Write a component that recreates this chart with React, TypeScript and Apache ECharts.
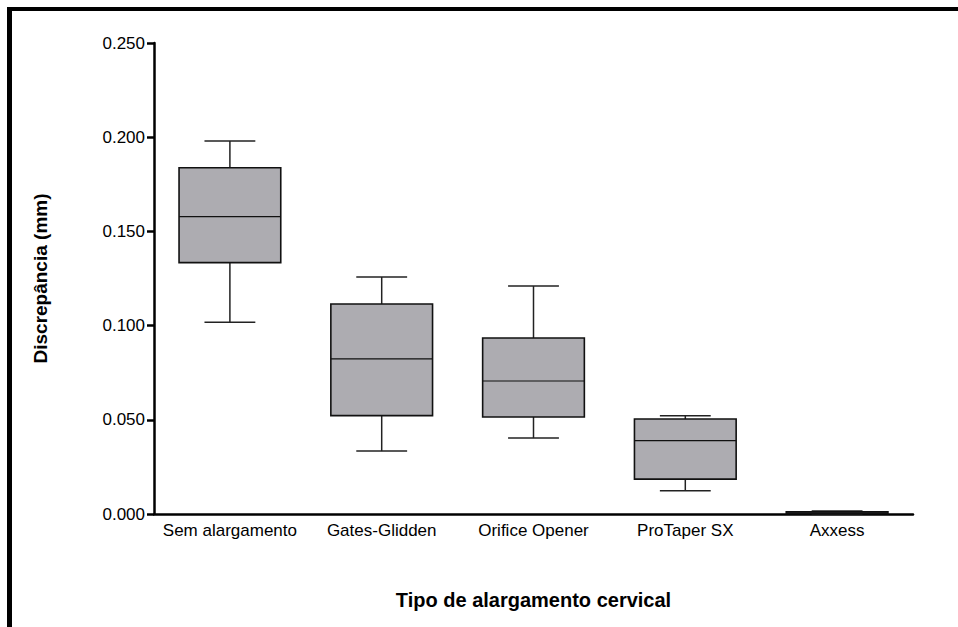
import React, { useEffect, useRef } from "react";
import * as echarts from "echarts";

const categories = ["Sem alargamento", "Gates-Glidden", "Orifice Opener", "ProTaper SX", "Axxess"];
// [min, Q1, median, Q3, max]
const boxMin = [0.1018, 0.0334, 0.0403, 0.0124, 0.0];
const boxQ1 = [0.1334, 0.0522, 0.0515, 0.0185, 0.0002];
const boxMedian = [0.1578, 0.0823, 0.0706, 0.0389, 0.001];
const boxQ3 = [0.1838, 0.1115, 0.0934, 0.0504, 0.0012];
const boxMax = [0.198, 0.1258, 0.121, 0.0522, 0.0016];
const yTicks = [0, 0.05, 0.1, 0.15, 0.2, 0.25];

export default function App() {
  const ref = useRef<HTMLDivElement>(null);
  useEffect(() => {
    document.body.style.margin = "0";
    const chart = echarts.init(ref.current!, null, { renderer: "svg" });
    const data = categories.map((_, i) => [i, boxMin[i], boxQ1[i], boxMedian[i], boxQ3[i], boxMax[i]]);
    chart.setOption({
      animation: false,
      backgroundColor: "#ffffff",
      textStyle: { fontFamily: "Liberation Sans, Arial, sans-serif" },
      grid: { left: 154, right: 45, top: 43, bottom: 113 },
      xAxis: {
        type: "category",
        data: categories,
        boundaryGap: true,
        axisLine: { lineStyle: { color: "#000", width: 2.5 } },
        axisTick: { show: false },
        axisLabel: { color: "#000", fontSize: 17, margin: 8, interval: 0, fontFamily: "Liberation Sans" },
        name: "Tipo de alargamento cervical",
        nameLocation: "middle",
        nameGap: 76,
        nameTextStyle: { color: "#000", fontSize: 20, fontWeight: "bold", fontFamily: "Liberation Sans" },
        splitLine: { show: false },
      },
      yAxis: {
        type: "value",
        min: yTicks[0],
        max: yTicks[yTicks.length - 1],
        interval: 0.05,
        axisLine: { show: true, lineStyle: { color: "#000", width: 2.5 } },
        axisTick: { show: true, inside: false, length: 7, lineStyle: { color: "#000", width: 2.5 } },
        axisLabel: {
          color: "#000",
          fontSize: 17,
          margin: 9,
          fontFamily: "Liberation Sans",
          formatter: (v: number) => v.toFixed(3),
        },
        splitLine: { show: false },
        name: "Discrepância (mm)",
        nameLocation: "middle",
        nameGap: 104,
        nameRotate: 90,
        nameTextStyle: { color: "#000", fontSize: 19, fontWeight: "bold", fontFamily: "Liberation Sans" },
      },
      series: [
        {
          type: "custom",
          data,
          renderItem: (params: any, api: any) => {
            const i = api.value(0);
            const band = api.size([1, 0])[0];
            const bw = band * 0.67;
            const cw = band * 0.335;
            const pMin = api.coord([i, api.value(1)]);
            const pQ1 = api.coord([i, api.value(2)]);
            const pMed = api.coord([i, api.value(3)]);
            const pQ3 = api.coord([i, api.value(4)]);
            const pMax = api.coord([i, api.value(5)]);
            const cx = pMed[0];
            const lineStyle = { stroke: "#222", lineWidth: 1.5 };
            return {
              type: "group",
              children: [
                { type: "line", shape: { x1: cx, y1: pQ3[1], x2: cx, y2: pMax[1] }, style: lineStyle },
                { type: "line", shape: { x1: cx - cw / 2, y1: pMax[1], x2: cx + cw / 2, y2: pMax[1] }, style: lineStyle },
                { type: "line", shape: { x1: cx, y1: pQ1[1], x2: cx, y2: pMin[1] }, style: lineStyle },
                { type: "line", shape: { x1: cx - cw / 2, y1: pMin[1], x2: cx + cw / 2, y2: pMin[1] }, style: lineStyle },
                {
                  type: "rect",
                  shape: { x: cx - bw / 2, y: pQ3[1], width: bw, height: pQ1[1] - pQ3[1] },
                  style: { fill: "#adacb1", stroke: "#111", lineWidth: 1.6 },
                },
                { type: "line", shape: { x1: cx - bw / 2, y1: pMed[1], x2: cx + bw / 2, y2: pMed[1] }, style: { stroke: "#111", lineWidth: 1.2 } },
              ],
            };
          },
          z: 1,
        },
      ],
      graphic: [
        { type: "line", shape: { x1: 7, y1: 9, x2: 958, y2: 9 }, style: { stroke: "#000", lineWidth: 4 } },
        { type: "line", shape: { x1: 9.5, y1: 7, x2: 9.5, y2: 627 }, style: { stroke: "#000", lineWidth: 5 } },
      ],
    });
    return () => chart.dispose();
  }, []);
  return <div ref={ref} style={{ width: 958, height: 627 }} />;
}
